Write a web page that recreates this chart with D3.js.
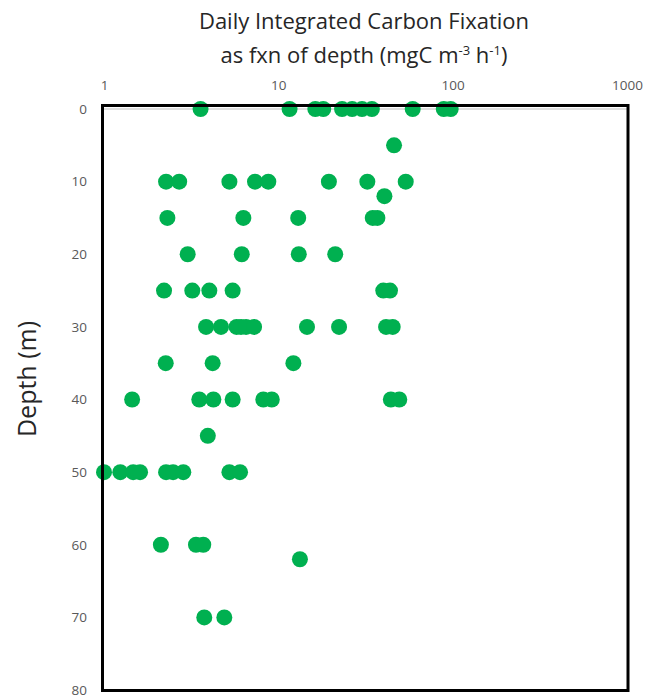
<!DOCTYPE html>
<html>
<head>
<meta charset="utf-8">
<title>Daily Integrated Carbon Fixation</title>
<script src="https://cdn.jsdelivr.net/npm/d3@7"></script>
<style>
body { margin: 0; background: #fff; }
text { font-family: "Open Sans", sans-serif; }
</style>
</head>
<body>
<div id="chart"></div>
<script>

// depth (m) of each sample and its carbon fixation (mgC m-3 h-1)
var depths = [
	0, 0, 0, 0, 0, 0, 0, 0, 0, 0, 0,
	5,
	10, 10, 10, 10, 10, 10, 10, 10,
	12,
	15, 15, 15, 15, 15,
	20, 20, 20, 20,
	25, 25, 25, 25, 25, 25,
	30, 30, 30, 30, 30, 30, 30, 30, 30, 30,
	35, 35, 35,
	40, 40, 40, 40, 40, 40, 40, 40,
	45,
	50, 50, 50, 50, 50, 50, 50, 50, 50,
	60, 60, 60,
	62,
	70, 70
];
var fixation = [
	3.58, 11.6, 16.3, 18.1, 23.2, 26.5, 30.2, 34.4, 59, 88.9, 97.4,
	46.1,
	2.27, 2.70, 5.24, 7.35, 8.76, 19.5, 32.4, 53.8,
	40.6,
	2.31, 6.30, 13.0, 34.8, 37.0,
	3.02, 6.17, 13.1, 21.2,
	2.21, 3.21, 4.02, 5.47, 40.0, 43.7,
	3.85, 4.69, 5.76, 6.11, 6.53, 7.26, 14.6, 22.3, 41.5, 45.3,
	2.26, 4.20, 12.2,
	1.45, 3.52, 4.24, 5.47, 8.20, 9.17, 44.2, 49.4,
	3.94,
	1.0, 1.24, 1.47, 1.61, 2.27, 2.49, 2.85, 5.24, 6.03,
	2.12, 3.37, 3.71,
	13.3,
	3.76, 4.90
];
var xTicks = [1, 10, 100, 1000];
var yTicks = [0, 10, 20, 30, 40, 50, 60, 70, 80];

var width = 650;
var height = 696;

var svg = d3.select("#chart")
	.append("svg")
		.attr("width", width)
		.attr("height", height);

var x = d3.scaleLog()
	.domain([1, 1000])
	.range([104, 627]);

var y = d3.scaleLinear()
	.domain([0, 80])
	.range([109, 690]);

// title
var title = svg.append("text")
	.attr("text-anchor", "middle")
	.style("font-size", "22px")
	.style("fill", "#262626");

title.append("tspan")
	.attr("x", 364)
	.attr("y", 29)
	.text("Daily Integrated Carbon Fixation");

var line2 = title.append("tspan")
	.attr("x", 364)
	.attr("y", 63);
line2.append("tspan").text("as fxn of depth (mgC m");
line2.append("tspan").attr("dy", -8).style("font-size", "13px").text("-3");
line2.append("tspan").attr("dy", 8).text(" h");
line2.append("tspan").attr("dy", -8).style("font-size", "13px").text("-1");
line2.append("tspan").attr("dy", 8).text(")");

// axes
var xAxis = svg.append("g")
	.attr("transform", "translate(0,93)")
	.call(d3.axisTop(x).tickValues(xTicks).tickSize(0).tickFormat(d3.format("d")));

var yAxis = svg.append("g")
	.attr("transform", "translate(87,0)")
	.call(d3.axisLeft(y).tickValues(yTicks).tickSize(0));

[xAxis, yAxis].forEach(function(a) {
	a.select(".domain").remove();
	a.selectAll("text")
		.style("font-family", "'Open Sans', sans-serif")
		.style("font-size", "13.5px")
		.style("fill", "#595959");
});
yAxis.selectAll("text").attr("x", 0);

svg.append("text")
	.attr("transform", "translate(36,379) rotate(-90)")
	.attr("text-anchor", "middle")
	.style("font-size", "25px")
	.style("fill", "#262626")
	.text("Depth (m)");

// light axis line at the surface
svg.append("line")
	.attr("x1", x(1)).attr("x2", x(1000))
	.attr("y1", y(0)).attr("y2", y(0))
	.style("stroke", "#bfbfbf")
	.style("stroke-width", 1);

// points
svg.selectAll("circle")
	.data(d3.range(depths.length))
	.enter()
	.append("circle")
		.attr("cx", function(i) { return x(fixation[i]); })
		.attr("cy", function(i) { return y(depths[i]); })
		.attr("r", 8)
		.style("fill", "#00b050");

// frame drawn over the points
svg.append("rect")
	.attr("x", 102.5)
	.attr("y", 105.5)
	.attr("width", 525.5)
	.attr("height", 585)
	.style("fill", "none")
	.style("stroke", "#000")
	.style("stroke-width", 3);

</script>
</body>
</html>
